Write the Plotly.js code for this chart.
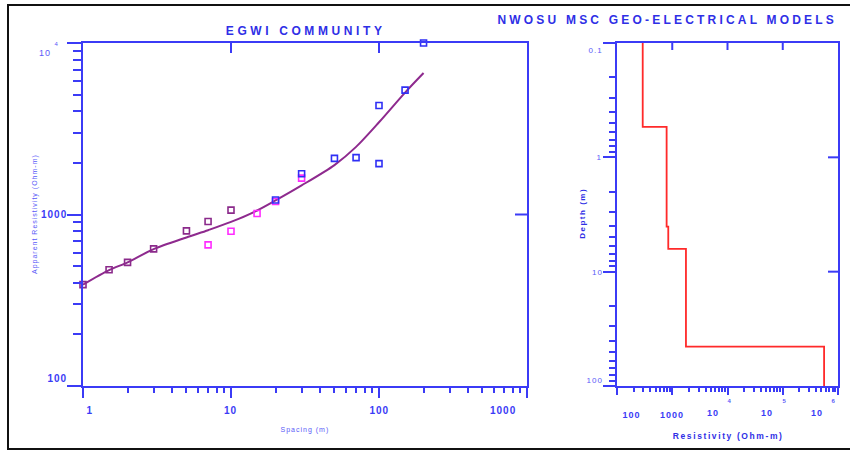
<!DOCTYPE html>
<html>
<head>
<meta charset="utf-8">
<script src="https://cdn.plot.ly/plotly-3.0.1.min.js"></script>
<style>
  html, body { margin: 0; padding: 0; background: #ffffff; }
  #chart { width: 850px; height: 450px; }
</style>
</head>
<body>
<div id="chart"></div>
<script>
// Field apparent resistivity (Ohm-m) against electrode spacing (m), by segment
const spacingPurple = [1, 1.5, 2, 3, 5, 7, 10];
const rhoPurple     = [390, 476, 526, 630, 803, 910, 1060];
const spacingMagenta = [7, 10, 15, 20, 30];
const rhoMagenta     = [665, 799, 1013, 1190, 1630];
const spacingBlue = [20, 30, 50, 70, 100, 100, 150, 200];
const rhoBlue     = [1215, 1730, 2125, 2146, 1980, 4320, 5310, 10000];

// Computed response of the layered model
const spacingModel = [1, 1.5, 2, 3, 5, 7, 10, 15, 20, 30, 50, 70, 100, 150, 200];
const rhoModel     = [390, 474, 526, 628, 735, 810, 905, 1055, 1208, 1478, 1942, 2480, 3450, 5140, 6680];

// Layered earth model: resistivity of each layer and depth of its base
const layerRho    = [292, 791, 847, 1770, 560000];
const layerBottom = [0.542, 4.03, 6.32, 45.2];
const depthTop = 0.1;
const depthBottom = 100;

// Tick values and labels (base text plus optional exponent)
const spacingTicks = [1, 10, 100, 1000];
const spacingTickText = ['1', '10', '100', '1000'];
const appRhoTicks = [100, 1000, 10000];
const appRhoTickText = ['100', '1000', '10'];
const appRhoTickExp = ['', '', '4'];
const resTicks = [100, 1000, 1e4, 1e5, 1e6];
const resTickText = ['100', '1000', '10', '10', '10'];
const resTickExp = ['', '', '4', '5', '6'];
const depthTicks = [0.1, 1, 10, 100];
const depthTickText = ['0.1', '1', '10', '100'];

// Inward ticks on the top and right frame edges
const spacingInnerTicks = [10, 100];
const appRhoInnerTicks = [1000];
const resInnerTicks = [1000, 1e4, 1e5];
const depthInnerTicks = [1, 10];

// Label offsets (px) that keep the end labels clear of the frame corners
const spacingLabelShift = [7, 0, 0, -24];
const appRhoLabelShift = [8, 0, -10];
const appRhoLabelXShift = [0, 0, -16];
const resLabelShift = [14, 0, -15, -16, -21];
const resExpShift = [0, 0, 2, 2, -4];
const depthLabelShift = [-7, 0, -1, 6];

// Build the stepped resistivity-depth profile from the layer table
const stepX = [], stepY = [];
let layerTop = depthTop;
layerRho.forEach((r, i) => {
  const layerBase = i < layerBottom.length ? layerBottom[i] : depthBottom;
  stepX.push(r, r);
  stepY.push(layerTop, layerBase);
  layerTop = layerBase;
});

// Minor tick positions 2..9 in each decade
function minorVals(lo, hi) {
  const v = [];
  for (let e = lo; e < hi; e++) for (let d = 2; d <= 9; d++) v.push(d * Math.pow(10, e));
  return v;
}

const axisBlue = '#3b3bf6';
const textBlue = '#2f2fe6';
const lightBlue = '#5a5af8';
const FONT = 'Liberation Sans, Arial, sans-serif';

const W = 850, H = 450;
const leftDom = [83 / W, 527 / W];
const rightDom = [617 / W, 838 / W];
const yDom = [1 - 386 / H, 1 - 43 / H];

function baseAxis(extra) {
  return Object.assign({
    type: 'log', showline: true, mirror: true, linecolor: axisBlue, linewidth: 2,
    showgrid: false, zeroline: false, tickcolor: axisBlue, tickwidth: 2,
    tickmode: 'array', showticklabels: false, fixedrange: true
  }, extra);
}

const traces = [
  {
    x: spacingModel, y: rhoModel, xaxis: 'x', yaxis: 'y', mode: 'lines',
    line: { color: '#8e2a8e', width: 2, shape: 'spline', smoothing: 0.8 },
    hoverinfo: 'skip'
  },
  {
    x: spacingPurple, y: rhoPurple, xaxis: 'x', yaxis: 'y', mode: 'markers',
    marker: { symbol: 'square-open', size: 6, color: '#8b2a8b', line: { width: 1.6, color: '#8b2a8b' } },
    cliponaxis: false
  },
  {
    x: spacingMagenta, y: rhoMagenta, xaxis: 'x', yaxis: 'y', mode: 'markers',
    marker: { symbol: 'square-open', size: 6, color: '#ff2cff', line: { width: 1.6, color: '#ff2cff' } },
    cliponaxis: false
  },
  {
    x: spacingBlue, y: rhoBlue, xaxis: 'x', yaxis: 'y', mode: 'markers',
    marker: { symbol: 'square-open', size: 6, color: '#2f2ff5', line: { width: 1.6, color: '#2f2ff5' } },
    cliponaxis: false
  },
  {
    x: stepX, y: stepY, xaxis: 'x2', yaxis: 'y2', mode: 'lines',
    line: { color: '#ff2a2a', width: 1.8 },
    hoverinfo: 'skip'
  }
];

// Tick labels as annotations placed through each axis
const annotations = [];
const letterSpacing = {};
function label(opts) { annotations.push(Object.assign({ showarrow: false }, opts)); }

const boldTick = { family: FONT, size: 10, color: axisBlue, weight: 'bold' };
spacingTicks.forEach((v, i) => label({
  text: spacingTickText[i], xref: 'x', x: Math.log10(v), yref: 'paper', y: 1 - 410 / H,
  xanchor: 'center', yanchor: 'middle', xshift: spacingLabelShift[i], font: boldTick
}));
appRhoTicks.forEach((v, i) => {
  const plain = !appRhoTickExp[i];
  label({
    text: appRhoTickText[i], xref: 'paper', x: 68 / W, yref: 'y', y: Math.log10(v),
    xanchor: 'right', yanchor: 'middle', yshift: appRhoLabelShift[i], xshift: appRhoLabelXShift[i],
    font: plain ? boldTick : { family: FONT, size: 9, color: lightBlue }
  });
  if (!plain) label({
    text: appRhoTickExp[i], xref: 'paper', x: 57 / W, yref: 'y', y: Math.log10(v),
    xanchor: 'center', yanchor: 'middle', yshift: -1,
    font: { family: FONT, size: 6, color: lightBlue }
  });
});
resTicks.forEach((v, i) => {
  const plain = !resTickExp[i];
  label({
    text: resTickText[i], xref: 'x2', x: Math.log10(v), yref: 'paper', y: 1 - (plain ? 415 : 413) / H,
    xanchor: 'center', yanchor: 'middle', xshift: resLabelShift[i],
    font: { family: FONT, size: 9, color: axisBlue, weight: 'bold' }
  });
  if (!plain) label({
    text: resTickExp[i], xref: 'x2', x: Math.log10(v), yref: 'paper', y: 1 - 401 / H,
    xanchor: 'center', yanchor: 'middle', xshift: resExpShift[i],
    font: { family: FONT, size: 6, color: lightBlue, weight: 'bold' }
  });
});
depthTicks.forEach((v, i) => label({
  text: depthTickText[i], xref: 'paper', x: 604 / W, yref: 'y2', y: Math.log10(v),
  xanchor: 'right', yanchor: 'middle', yshift: depthLabelShift[i],
  font: { family: FONT, size: 8, color: lightBlue }
}));

// Titles
const titles = [
  ['EGWI COMMUNITY', 305, 31, 0, { size: 12, color: textBlue, weight: 'bold' }, '3.6px'],
  ['NWOSU MSC GEO-ELECTRICAL MODELS', 667, 20, 0, { size: 12, color: textBlue, weight: 'bold' }, '3.2px'],
  ['Apparent Resistivity (Ohm-m)', 35, 214, -90, { size: 7, color: lightBlue }, '1px'],
  ['Spacing (m)', 305, 430, 0, { size: 7, color: lightBlue }, '1px'],
  ['Depth (m)', 582, 213, -90, { size: 8, color: textBlue, weight: 'bold' }, '1.5px'],
  ['Resistivity (Ohm-m)', 728, 436, 0, { size: 8.5, color: textBlue, weight: 'bold' }, '1.6px']
];
titles.forEach(([text, px, py, ang, f, ls]) => {
  label({ text, xref: 'paper', yref: 'paper', x: px / W, y: 1 - py / H, textangle: ang,
    xanchor: 'center', yanchor: 'middle', font: Object.assign({ family: FONT }, f) });
  letterSpacing[text] = ls;
});

// Outer frame and inward frame ticks
const shapes = [
  { type: 'rect', xref: 'paper', yref: 'paper',
    x0: 8 / W, x1: 1.01, y0: 1 - 449 / H, y1: 1 - 5 / H,
    line: { color: '#111111', width: 2 }, fillcolor: 'rgba(0,0,0,0)', layer: 'below' }
];
function topTicks(vals, xr, yr, len) {
  vals.forEach(v => shapes.push({ type: 'line', xref: xr, yref: yr + ' domain', ysizemode: 'pixel', yanchor: 1,
    x0: v, x1: v, y0: 0, y1: -len, line: { color: axisBlue, width: 2 } }));
}
function rightTicks(vals, xr, yr, len) {
  vals.forEach(v => shapes.push({ type: 'line', xref: xr + ' domain', yref: yr, xsizemode: 'pixel', xanchor: 1,
    y0: v, y1: v, x0: 0, x1: -len, line: { color: axisBlue, width: 2 } }));
}
topTicks(spacingInnerTicks, 'x', 'y', 10);
rightTicks(appRhoInnerTicks, 'x', 'y', 12);
topTicks(resInnerTicks, 'x2', 'y2', 7);
rightTicks(depthInnerTicks, 'x2', 'y2', 10);

const layout = {
  width: W, height: H,
  margin: { l: 0, r: 0, t: 0, b: 0 },
  paper_bgcolor: '#ffffff', plot_bgcolor: 'rgba(0,0,0,0)',
  showlegend: false,
  font: { family: FONT, color: axisBlue },

  // Sounding curve panel
  xaxis: baseAxis({
    domain: leftDom, anchor: 'y', range: [0, 3],
    ticks: 'outside', ticklen: 10, tickvals: spacingTicks,
    minor: { tickmode: 'array', tickvals: minorVals(0, 3), ticks: 'outside', ticklen: 5, tickwidth: 2, tickcolor: axisBlue, showgrid: false }
  }),
  yaxis: baseAxis({
    domain: yDom, anchor: 'x', range: [2, 4],
    ticks: 'outside', ticklen: 14, tickvals: appRhoTicks,
    minor: { tickmode: 'array', tickvals: minorVals(2, 4), ticks: 'outside', ticklen: 8, tickwidth: 2, tickcolor: axisBlue, showgrid: false }
  }),

  // Layered model panel
  xaxis2: baseAxis({
    domain: rightDom, anchor: 'y2', range: [2, 6],
    ticks: 'outside', ticklen: 7, tickvals: resTicks,
    minor: { tickmode: 'array', tickvals: minorVals(2, 6), ticks: 'outside', ticklen: 4, tickwidth: 2, tickcolor: axisBlue, showgrid: false }
  }),
  yaxis2: baseAxis({
    domain: yDom, anchor: 'x2', range: [2, -1],
    ticks: 'outside', ticklen: 12, tickvals: depthTicks,
    minor: { tickmode: 'array', tickvals: minorVals(-1, 2), ticks: 'outside', ticklen: 6, tickwidth: 2, tickcolor: axisBlue, showgrid: false }
  }),

  annotations,
  shapes
};

Plotly.newPlot('chart', traces, layout, { staticPlot: true, displayModeBar: false }).then(gd => {
  gd.querySelectorAll('.annotation-text').forEach(n => {
    n.style.letterSpacing = letterSpacing[n.textContent] || '1px';
  });
});
</script>
</body>
</html>
